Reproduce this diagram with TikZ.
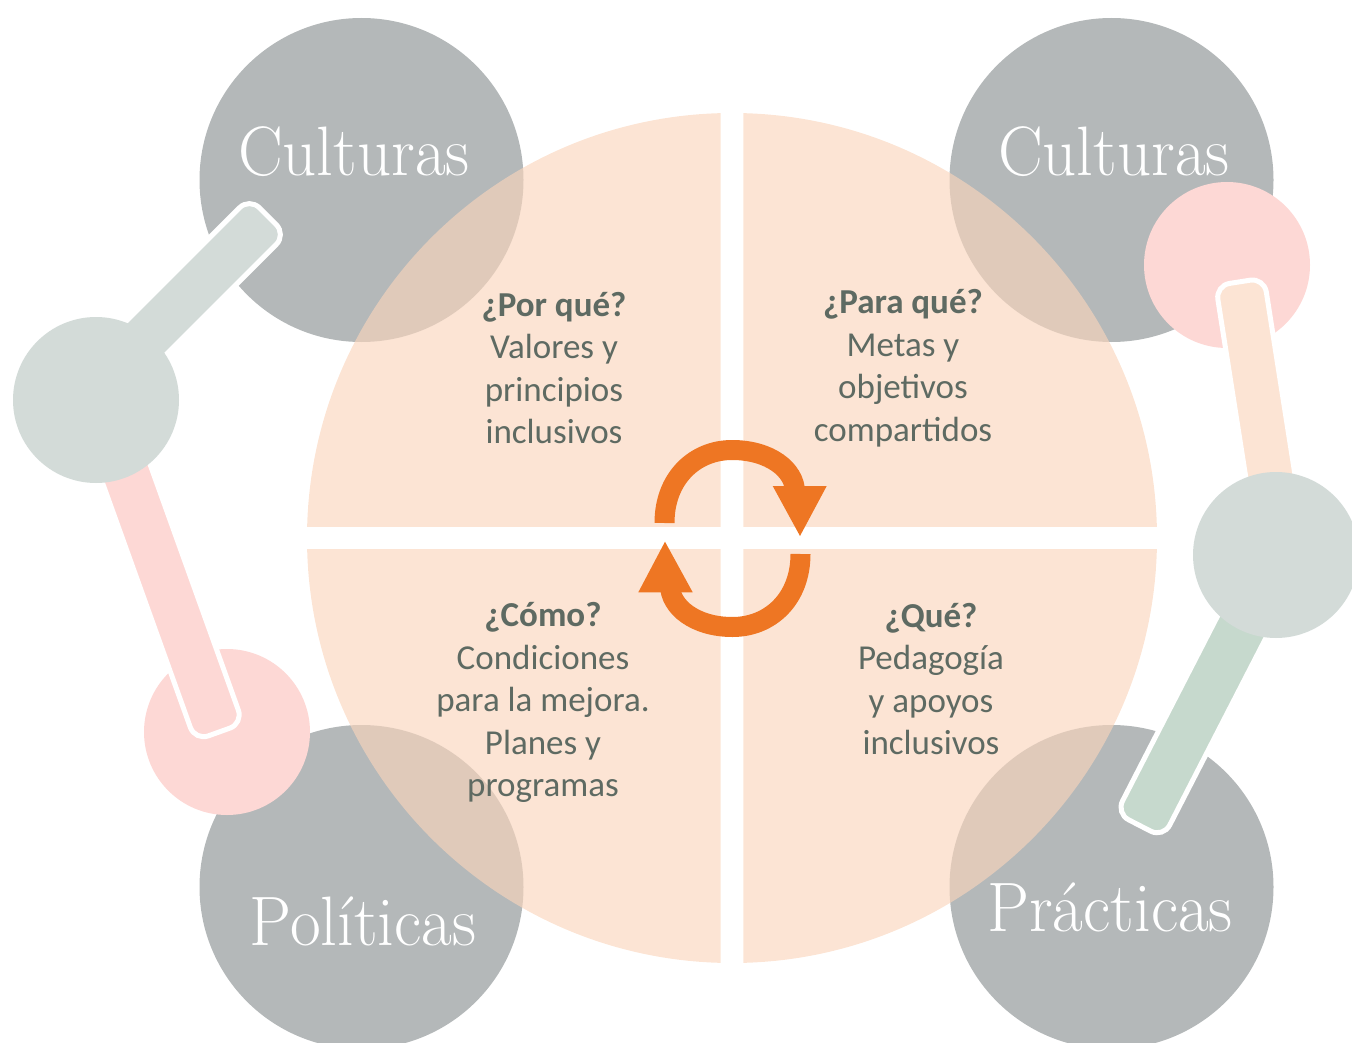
\documentclass[tikz,border=0pt]{standalone}
\usepackage{fontspec}
\newfontfamily\bodyfont{Carlito}
\usetikzlibrary{calc}
\definecolor{grayc}{RGB}{180,184,185}
\definecolor{peachc}{RGB}{250,213,188}
\definecolor{pinkc}{RGB}{253,216,213}
\definecolor{sagec}{RGB}{211,219,216}
\definecolor{greenc}{RGB}{198,217,205}
\definecolor{peachstick}{RGB}{252,228,212}
\definecolor{orangec}{RGB}{238,118,35}
\definecolor{txtc}{RGB}{94,106,98}
\begin{document}
\begin{tikzpicture}[x=1pt,y=-1pt,
  stick/.style={draw=white,line width=5pt,rounded corners=14pt},
  body/.style={font=\bodyfont\fontsize{35}{42.5}\selectfont, text=txtc, align=center, inner sep=0pt},
  title/.style={font=\fontsize{70}{80}\selectfont, text=white, anchor=base, inner sep=0pt},
  ring/.style={draw=orangec, line width=20pt},
  head/.style={fill=orangec}]
\useasboundingbox (0,0) rectangle (1352,1043);
\clip (0,0) rectangle (1352,1043);
% gray circles
\fill[grayc] (361.5,180) circle[radius=162];
\fill[grayc] (1111.5,180) circle[radius=162];
\fill[grayc] (361.5,887) circle[radius=162];
\fill[grayc] (1111.5,887) circle[radius=162];
% titles
\node[title] (t1) at (354,176) {\scalebox{0.955}[1]{Culturas}};
\node[title] (t2) at (1114,176) {\scalebox{0.955}[1]{Culturas}};
\node[title] (t3) at (363,945) {\scalebox{0.955}[1]{Políticas}};
\node[title] (t4) at (1110,931.5) {\scalebox{0.955}[1]{Prácticas}};
% peach quadrants
\begin{scope}
  \clip (0,0) rectangle (720.7,526.7);
  \fill[peachc, opacity=0.64] (732,538) circle[radius=425];
\end{scope}
\begin{scope}
  \clip (743.3,0) rectangle (1352,526.7);
  \fill[peachc, opacity=0.64] (732,538) circle[radius=425];
\end{scope}
\begin{scope}
  \clip (0,549.3) rectangle (720.7,1043);
  \fill[peachc, opacity=0.64] (732,538) circle[radius=425];
\end{scope}
\begin{scope}
  \clip (743.3,549.3) rectangle (1352,1043);
  \fill[peachc, opacity=0.64] (732,538) circle[radius=425];
\end{scope}
% circular arrows
\draw[ring] (664.5,523) .. controls (664.5,478) and (695,450) .. (732,450) .. controls (770,450) and (795,470) .. (795,492);
\fill[head] (772.7,486) -- (826.7,486) -- (800,536) -- cycle;
\draw[ring] (800.5,554) .. controls (800.5,599) and (770,627) .. (732.5,627) .. controls (695,627) and (670,607) .. (670,585);
\fill[head] (638.3,592.3) -- (692.7,592.3) -- (665,541.7) -- cycle;
% quadrant texts
\node[body] (q1) at (554,368) {\textbf{¿Por qué?}\\Valores y\\principios\\inclusivos};
\node[body] (q2) at (903,368) {\textbf{¿Para qué?}\\Metas y\\objetivos\\compartidos};
\node[body] (q3) at (543,702.5) {\textbf{¿Cómo?}\\Condiciones\\para la mejora.\\Planes y\\programas};
\node[body] (q4) at (931,679) {\textbf{¿Qué?}\\Pedagogía\\y apoyos\\inclusivos};
% left decoration
\fill[pinkc] (227,732) circle[radius=83];
\coordinate (b1) at (99.4,398.8);
\coordinate (b2) at (219.1,732.0);
\filldraw[stick, fill=pinkc] ($(b1)!25.5pt!90:(b2)$) -- ($(b2)!25.5pt!-90:(b1)$) -- ($(b2)!25.5pt!90:(b1)$) -- ($(b1)!25.5pt!-90:(b2)$) -- cycle;
\coordinate (a1) at (90,394);
\coordinate (a2) at (267.8,216.2);
\filldraw[stick, fill=sagec] ($(a1)!26pt!90:(a2)$) -- ($(a2)!26pt!-90:(a1)$) -- ($(a2)!26pt!90:(a1)$) -- ($(a1)!26pt!-90:(a2)$) -- cycle;
\fill[sagec] (96,400) circle[radius=83];
% right decoration
\fill[pinkc] (1227,265) circle[radius=83];
\coordinate (c1) at (1282.6,554);
\coordinate (c2) at (1239.9,281.8);
\filldraw[stick, fill=peachstick] ($(c1)!24.5pt!90:(c2)$) -- ($(c2)!24.5pt!-90:(c1)$) -- ($(c2)!24.5pt!90:(c1)$) -- ($(c1)!24.5pt!-90:(c2)$) -- cycle;
\coordinate (d1) at (1278.2,556.1);
\coordinate (d2) at (1139.7,825.5);
\filldraw[stick, fill=greenc] ($(d1)!26.5pt!90:(d2)$) -- ($(d2)!26.5pt!-90:(d1)$) -- ($(d2)!26.5pt!90:(d1)$) -- ($(d1)!26.5pt!-90:(d2)$) -- cycle;
\fill[sagec] (1276,555) circle[radius=83];
\end{tikzpicture}
\end{document}
